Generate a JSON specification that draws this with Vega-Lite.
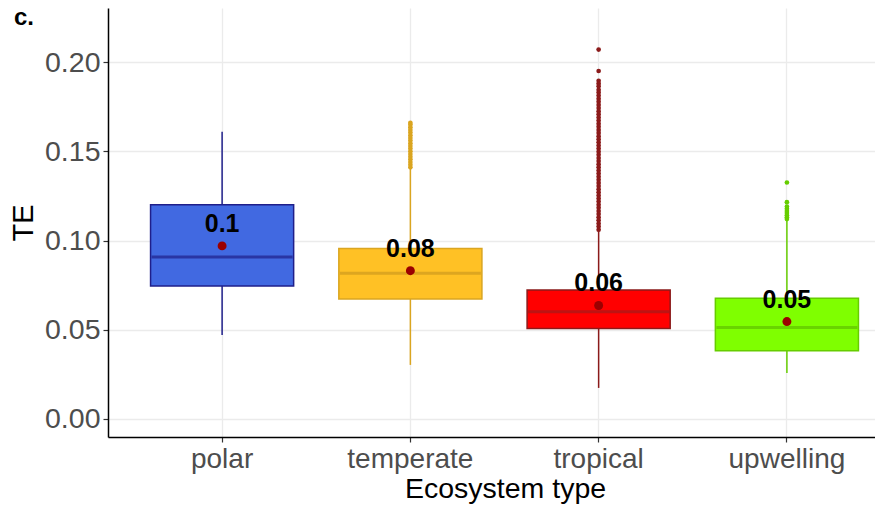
{
  "$schema": "https://vega.github.io/schema/vega-lite/v6.json",
  "width": 767,
  "height": 429,
  "autosize": {"type": "none"},
  "padding": {"left": 108, "top": 8, "right": 0, "bottom": 69},
  "background": "white",
  "title": {"text": "c.", "anchor": "start", "frame": "group", "fontSize": 24, "fontWeight": "bold", "font": "Liberation Sans", "color": "black", "dx": -94, "dy": 41, "offset": 0, "baseline": "alphabetic"},
  "config": {
    "view": {"stroke": null},
    "font": "Liberation Sans"
  },
  "datasets": {
    "stats": [
      {"eco": "polar", "lo": 0.0471, "q1": 0.0745, "med": 0.0907, "q3": 0.1200, "hi": 0.1610, "mean": 0.0970, "label": "0.1"},
      {"eco": "temperate", "lo": 0.0303, "q1": 0.0672, "med": 0.0816, "q3": 0.0955, "hi": 0.1405, "mean": 0.0831, "label": "0.08"},
      {"eco": "tropical", "lo": 0.0174, "q1": 0.0507, "med": 0.0601, "q3": 0.0723, "hi": 0.1048, "mean": 0.0636, "label": "0.06"},
      {"eco": "upwelling", "lo": 0.0258, "q1": 0.0383, "med": 0.0513, "q3": 0.0677, "hi": 0.1118, "mean": 0.0546, "label": "0.05"}
    ],
    "outliers": [
      {"eco": "temperate", "te": 0.1660}, {"eco": "temperate", "te": 0.1650}, {"eco": "temperate", "te": 0.1635},
      {"eco": "temperate", "te": 0.1620}, {"eco": "temperate", "te": 0.1605}, {"eco": "temperate", "te": 0.1590},
      {"eco": "temperate", "te": 0.1575}, {"eco": "temperate", "te": 0.1560}, {"eco": "temperate", "te": 0.1545},
      {"eco": "temperate", "te": 0.1530}, {"eco": "temperate", "te": 0.1515}, {"eco": "temperate", "te": 0.1500},
      {"eco": "temperate", "te": 0.1485}, {"eco": "temperate", "te": 0.1470}, {"eco": "temperate", "te": 0.1455},
      {"eco": "temperate", "te": 0.1440}, {"eco": "temperate", "te": 0.1425}, {"eco": "temperate", "te": 0.1410},
      {"eco": "tropical", "te": 0.2070}, {"eco": "tropical", "te": 0.1950}, {"eco": "tropical", "te": 0.1895},
      {"eco": "tropical", "te": 0.1880}, {"eco": "tropical", "te": 0.1865}, {"eco": "tropical", "te": 0.1845},
      {"eco": "tropical", "te": 0.1830}, {"eco": "tropical", "te": 0.1812}, {"eco": "tropical", "te": 0.1795},
      {"eco": "tropical", "te": 0.1778}, {"eco": "tropical", "te": 0.1760}, {"eco": "tropical", "te": 0.1742},
      {"eco": "tropical", "te": 0.1725}, {"eco": "tropical", "te": 0.1708}, {"eco": "tropical", "te": 0.1690},
      {"eco": "tropical", "te": 0.1672}, {"eco": "tropical", "te": 0.1655}, {"eco": "tropical", "te": 0.1638},
      {"eco": "tropical", "te": 0.1620}, {"eco": "tropical", "te": 0.1603}, {"eco": "tropical", "te": 0.1585},
      {"eco": "tropical", "te": 0.1568}, {"eco": "tropical", "te": 0.1550}, {"eco": "tropical", "te": 0.1533},
      {"eco": "tropical", "te": 0.1515}, {"eco": "tropical", "te": 0.1498}, {"eco": "tropical", "te": 0.1480},
      {"eco": "tropical", "te": 0.1462}, {"eco": "tropical", "te": 0.1445}, {"eco": "tropical", "te": 0.1428},
      {"eco": "tropical", "te": 0.1410}, {"eco": "tropical", "te": 0.1393}, {"eco": "tropical", "te": 0.1375},
      {"eco": "tropical", "te": 0.1358}, {"eco": "tropical", "te": 0.1340}, {"eco": "tropical", "te": 0.1323},
      {"eco": "tropical", "te": 0.1305}, {"eco": "tropical", "te": 0.1288}, {"eco": "tropical", "te": 0.1270},
      {"eco": "tropical", "te": 0.1253}, {"eco": "tropical", "te": 0.1235}, {"eco": "tropical", "te": 0.1218},
      {"eco": "tropical", "te": 0.1200}, {"eco": "tropical", "te": 0.1183}, {"eco": "tropical", "te": 0.1165},
      {"eco": "tropical", "te": 0.1148}, {"eco": "tropical", "te": 0.1130}, {"eco": "tropical", "te": 0.1113},
      {"eco": "tropical", "te": 0.1095}, {"eco": "tropical", "te": 0.1078}, {"eco": "tropical", "te": 0.1060},
      {"eco": "upwelling", "te": 0.1325}, {"eco": "upwelling", "te": 0.1215}, {"eco": "upwelling", "te": 0.1190},
      {"eco": "upwelling", "te": 0.1178}, {"eco": "upwelling", "te": 0.1166}, {"eco": "upwelling", "te": 0.1154},
      {"eco": "upwelling", "te": 0.1142}, {"eco": "upwelling", "te": 0.1130}, {"eco": "upwelling", "te": 0.1120}
    ]
  },
  "encoding": {
    "x": {
      "field": "eco", "type": "nominal", "sort": ["polar", "temperate", "tropical", "upwelling"],
      "scale": {"type": "band", "paddingInner": 0.24, "paddingOuter": 0.157, "align": 0.72},
      "axis": {
        "title": "Ecosystem type", "titleFontSize": 28.5, "titleFontWeight": "normal", "titleColor": "black", "titlePadding": 1,
        "titleX": 397, "titleAlign": "center",
        "labelFontSize": 28, "labelColor": "#4D4D4D", "labelAngle": 0, "labelPadding": 3,
        "tickColor": "#333333", "tickSize": 5, "tickWidth": 1.2, "bandPosition": 0.5,
        "domainColor": "black", "domainWidth": 1.5,
        "grid": true, "gridColor": "#EBEBEB", "gridWidth": 1.3
      }
    }
  },
  "layer": [
    {
      "data": {"name": "stats"},
      "mark": {"type": "rule", "strokeWidth": 1.5},
      "encoding": {
        "y": {
          "field": "lo", "type": "quantitative",
          "scale": {"domain": [-0.0101, 0.2303], "nice": false, "zero": false},
          "axis": {
            "values": [0, 0.05, 0.1, 0.15, 0.2], "format": ".2f",
            "title": "TE", "titleFontSize": 29, "titleFontWeight": "normal", "titleColor": "black", "titlePadding": 6,
            "labelFontSize": 28.5, "labelColor": "#4D4D4D", "labelPadding": 3,
            "tickColor": "#333333", "tickSize": 5, "tickWidth": 1.2,
            "domainColor": "black", "domainWidth": 1.5,
            "grid": true, "gridColor": "#EBEBEB", "gridWidth": 1.3
          }
        },
        "y2": {"field": "hi"},
        "stroke": {"field": "eco", "type": "nominal", "legend": null,
          "scale": {"domain": ["polar", "temperate", "tropical", "upwelling"], "range": ["#1F1F8A", "#DAA520", "#8B1A1A", "#66CD00"]}}
      }
    },
    {
      "data": {"name": "stats"},
      "mark": {"type": "bar", "strokeWidth": 1.5},
      "encoding": {
        "y": {"field": "q1", "type": "quantitative"},
        "y2": {"field": "q3"},
        "fill": {"field": "eco", "type": "nominal", "legend": null,
          "scale": {"domain": ["polar", "temperate", "tropical", "upwelling"], "range": ["#4169E1", "#FFC125", "#FF0000", "#7FFF00"]}},
        "stroke": {"field": "eco", "type": "nominal", "legend": null}
      }
    },
    {
      "data": {"name": "stats"},
      "mark": {"type": "tick", "thickness": 3, "size": 141},
      "encoding": {
        "y": {"field": "med", "type": "quantitative"},
        "color": {"field": "eco", "type": "nominal", "legend": null,
          "scale": {"domain": ["polar", "temperate", "tropical", "upwelling"], "range": ["#1F1F8A", "#CF9A1E", "#A11B1B", "#5FC000"]}}
      }
    },
    {
      "data": {"name": "outliers"},
      "mark": {"type": "point", "filled": true, "size": 22, "opacity": 1},
      "encoding": {
        "y": {"field": "te", "type": "quantitative"},
        "fill": {"field": "eco", "type": "nominal", "legend": null,
          "scale": {"domain": ["polar", "temperate", "tropical", "upwelling"], "range": ["#1F1F8A", "#DAA520", "#8B1A1A", "#66CD00"]}}
      }
    },
    {
      "data": {"name": "stats"},
      "mark": {"type": "point", "filled": true, "size": 80, "color": "#9B0000", "opacity": 1},
      "encoding": {
        "y": {"field": "mean", "type": "quantitative"}
      }
    },
    {
      "data": {"name": "stats"},
      "mark": {"type": "text", "fontSize": 25, "fontWeight": "bold", "color": "black", "baseline": "alphabetic", "dy": -14, "font": "Liberation Sans"},
      "encoding": {
        "y": {"field": "mean", "type": "quantitative"},
        "text": {"field": "label"}
      }
    }
  ],
  "resolve": {"scale": {"fill": "independent", "color": "independent"}}
}
